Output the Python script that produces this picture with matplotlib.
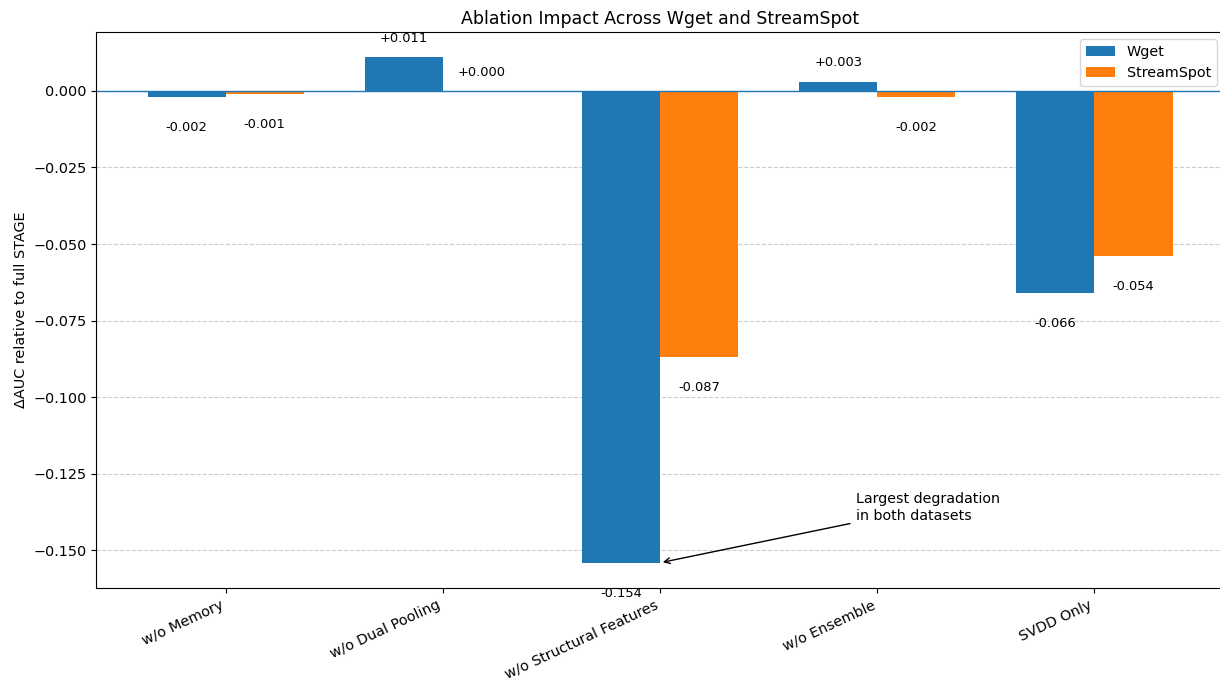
import matplotlib
matplotlib.use("Agg")
import matplotlib.pyplot as plt
import numpy as np

variants = ["w/o Memory", "w/o Dual Pooling", "w/o Structural Features",
            "w/o Ensemble", "SVDD Only"]
wget_delta = [-0.002, 0.011, -0.154, 0.003, -0.066]
streamspot_delta = [-0.001, 0.000, -0.087, -0.002, -0.054]

x = np.arange(len(variants))
width = 0.36

plt.rcParams["font.size"] = 10.4

fig = plt.figure(figsize=(12.2, 6.79), dpi=100)
ax = fig.add_axes([0.0789, 0.134, 0.9243, 0.819])

b1 = ax.bar(x - width / 2, wget_delta, width, label="Wget", color="#1f77b4")
b2 = ax.bar(x + width / 2, streamspot_delta, width, label="StreamSpot", color="#ff7f0e")

ax.axhline(0, color="#1f77b4", linewidth=1)
ax.yaxis.grid(True, linestyle="--", color="#cccccc", linewidth=0.8)
ax.set_axisbelow(True)

for bars, vals in ((b1, wget_delta), (b2, streamspot_delta)):
    for rect, v in zip(bars, vals):
        cx = rect.get_x() + rect.get_width() / 2
        if v >= 0:
            ax.text(cx, v + 0.004, f"{v:+.3f}", ha="center", va="bottom", fontsize=9.4)
        else:
            ax.text(cx, v - 0.0078, f"{v:.3f}", ha="center", va="top", fontsize=9.4)

ax.annotate("Largest degradation\nin both datasets",
            xy=(2, wget_delta[2]), xytext=(2.9, -0.136), va="center",
            fontsize=10.3, arrowprops=dict(arrowstyle="->", color="black", lw=1))

ax.set_xticks(x)
ax.set_xticklabels(variants, rotation=25, ha="right")
ax.set_ylabel("ΔAUC relative to full STAGE")
ax.set_title("Ablation Impact Across Wget and StreamSpot", fontsize=12.5)
ax.legend(loc="upper right")

fig.savefig("out.png", dpi=100)
